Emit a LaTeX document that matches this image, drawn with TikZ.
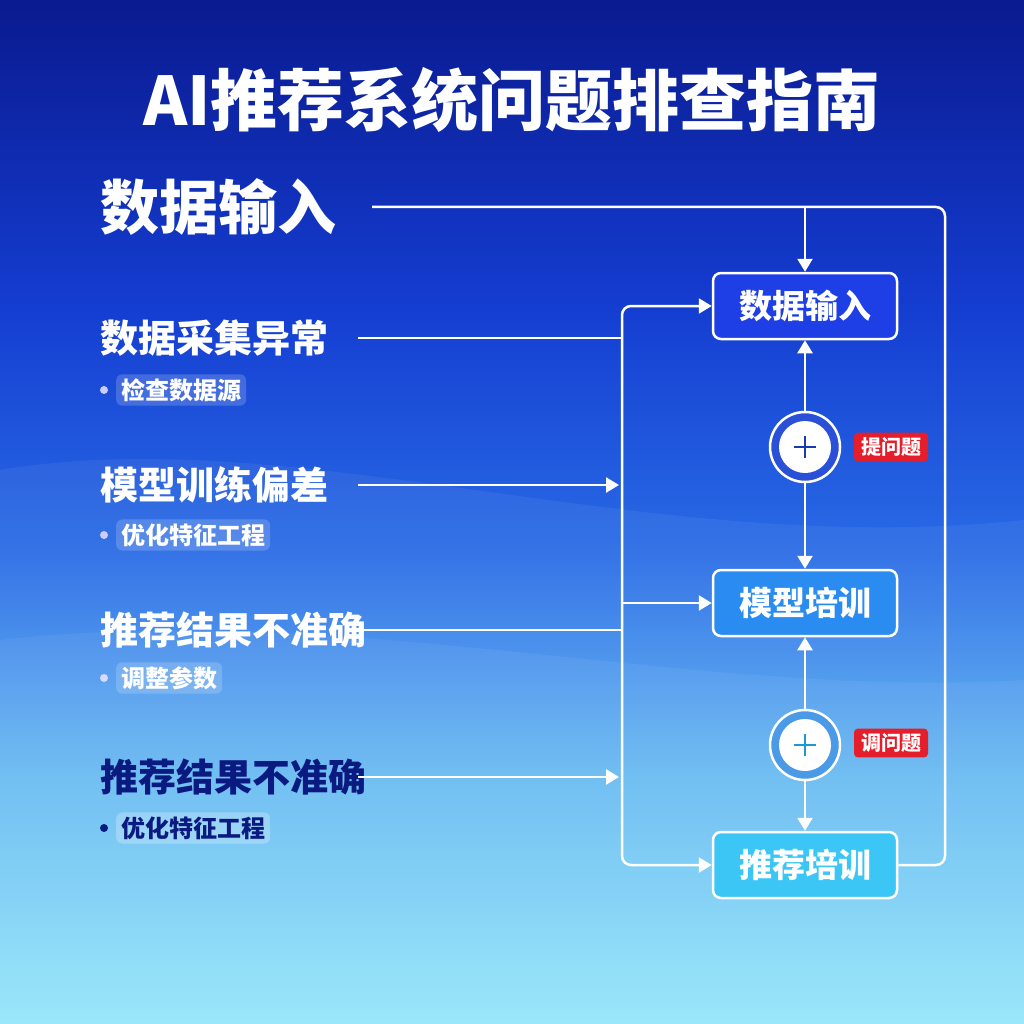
\documentclass[tikz,border=0pt]{standalone}
\usepackage{fontspec}
\newfontfamily\cjk{Noto Sans CJK SC}
\usetikzlibrary{arrows.meta}
\pgfdeclareverticalshading{bgshade}{100bp}{rgb(0bp)=(0.56,0.90,0.98); rgb(25bp)=(0.56,0.90,0.98); rgb(37bp)=(0.38,0.72,0.95); rgb(48bp)=(0.16,0.42,0.90); rgb(60bp)=(0.08,0.24,0.82); rgb(75bp)=(0.04,0.10,0.56); rgb(100bp)=(0.04,0.10,0.56)}
\definecolor{boxA}{HTML}{1E3EE6}
\definecolor{boxB}{HTML}{2A8CF0}
\definecolor{boxC}{HTML}{3CC6F5}
\definecolor{navy}{HTML}{0B1A80}
\definecolor{ringA}{HTML}{2A50D8}
\definecolor{ringB}{HTML}{4A9AE8}
\definecolor{plusA}{HTML}{1A3AB0}
\definecolor{plusB}{HTML}{1A9AD0}
\definecolor{tagred}{HTML}{E41E2A}
\tikzset{
  conn/.style={draw=white,line width=2.5pt},
  arrowhead/.style={Triangle[width=15pt,length=13pt]},
  tip/.style={-{Triangle[width=15pt,length=13pt]}},
  bigtxt/.style={font=\cjk\bfseries\fontsize{59}{63}\selectfont,text=white,anchor=west,inner sep=0pt},
  midtxt/.style={font=\cjk\bfseries\fontsize{38}{42}\selectfont,text=white,anchor=west,inner sep=0pt},
  subbox/.style={font=\cjk\bfseries\fontsize{24}{26}\selectfont,text=white,anchor=west,fill=white,fill opacity=0.18,text opacity=1,rounded corners=6pt,inner xsep=5pt,inner ysep=4pt},
  dot/.style={circle,fill=#1,inner sep=0pt,minimum size=8pt},
  flowbox/.style={draw=white,line width=2.5pt,rounded corners=8pt,minimum width=184pt,minimum height=66pt,font=\cjk\bfseries\fontsize{33}{36}\selectfont,text=white,fill=#1},
  ring/.style={circle,draw=white,line width=2.5pt,fill=#1,minimum size=70pt,inner sep=0pt},
  core/.style={circle,fill=white,minimum size=52pt,inner sep=0pt},
  tag/.style={fill=tagred,rounded corners=4pt,font=\cjk\bfseries\fontsize{20}{22}\selectfont,text=white,inner xsep=7pt,inner ysep=5pt}
}
\begin{document}
\begin{tikzpicture}[x=1pt,y=-1pt]
\useasboundingbox (0,0) rectangle (1024,1024);
\shade[shading=bgshade] (0,0) rectangle (1024,1024);
% faint wave bands
\fill[white,opacity=0.06] (0,470) .. controls (300,420) and (650,560) .. (1024,520) -- (1024,1024) -- (0,1024) -- cycle;
\fill[white,opacity=0.06] (0,640) .. controls (350,600) and (700,700) .. (1024,680) -- (1024,1024) -- (0,1024) -- cycle;

% title
\node[font=\cjk\bfseries\fontsize{67}{72}\selectfont,text=white] (title) at (512,100) {AI推荐系统问题排查指南};

% left column
\node[bigtxt] (h0) at (100,207) {数据输入};
\node[midtxt] (h1) at (100,338) {数据采集异常};
\node[dot=white!80!blue] (d1) at (104,390) {};
\node[subbox] (t1) at (116,390) {检查数据源};
\node[midtxt] (h2) at (100,485) {模型训练偏差};
\node[dot=white!80!blue] (d2) at (104,535) {};
\node[subbox] (t2) at (116,535) {优化特征工程};
\node[midtxt] (h3) at (100,630) {推荐结果不准确};
\node[dot=white!85!blue] (d3) at (104,678) {};
\node[subbox] (t3) at (116,678) {调整参数};
\node[midtxt,text=navy] (h4) at (100,777) {推荐结果不准确};
\node[dot=navy] (d4) at (104,828) {};
\node[subbox,text=navy,fill opacity=0.25] (t4) at (116,828) {优化特征工程};

% flow boxes
\node[flowbox=boxA] (b1) at (805,306) {数据输入};
\node[flowbox=boxB] (b2) at (805,603) {模型培训};
\node[flowbox=boxC] (b3) at (805,865) {推荐培训};

% circles
\node[ring=ringA] (c1) at (805,447) {};
\node[core] (k1) at (c1) {};
\draw[plusA,line width=2.5pt] ([xshift=-11pt]k1.center) -- ([xshift=11pt]k1.center);
\draw[plusA,line width=2.5pt] ([yshift=-11pt]k1.center) -- ([yshift=11pt]k1.center);
\node[ring=ringB] (c2) at (805,745) {};
\node[core] (k2) at (c2) {};
\draw[plusB,line width=2.5pt] ([xshift=-11pt]k2.center) -- ([xshift=11pt]k2.center);
\draw[plusB,line width=2.5pt] ([yshift=-11pt]k2.center) -- ([yshift=11pt]k2.center);

% tags
\node[tag] (g1) at (891,447) {提问题};
\node[tag] (g2) at (891,743) {调问题};

% coordinates
\coordinate (s0) at (372,207);
\coordinate (rt) at (945,207);
\coordinate (vtop) at (622,306);
\coordinate (vbot) at (622,865);
\coordinate (s1) at (358,338);
\coordinate (e1) at (622,338);
\coordinate (s2) at (358,485);
\coordinate (e2) at (619,485);
\coordinate (s3) at (358,630);
\coordinate (e3) at (622,630);
\coordinate (s4) at (358,777);
\coordinate (e4) at (619,777);
\coordinate (m2) at (622,603);

% connectors
\draw[conn,rounded corners=9pt] (s0) -- (rt) |- (b3.east);
\draw[conn,tip] (b1.north |- s0) -- (b1.north);
\draw[conn,{Triangle[width=15pt,length=13pt]}-{Triangle[width=15pt,length=13pt]},rounded corners=9pt] (b1.west) -- (vtop) -- (vbot) -- (b3.west);
\draw[conn,tip] (m2) -- (b2.west);
\draw[conn] (s1) -- (e1);
\draw[conn,tip] (s2) -- (e2);
\draw[conn] (s3) -- (e3);
\draw[conn,tip] (s4) -- (e4);
\draw[conn,tip] (c1) -- (b1);
\draw[conn,tip] (c1) -- (b2);
\draw[conn,tip] (c2) -- (b2);
\draw[conn,tip] (c2) -- (b3);
\end{tikzpicture}
\end{document}
